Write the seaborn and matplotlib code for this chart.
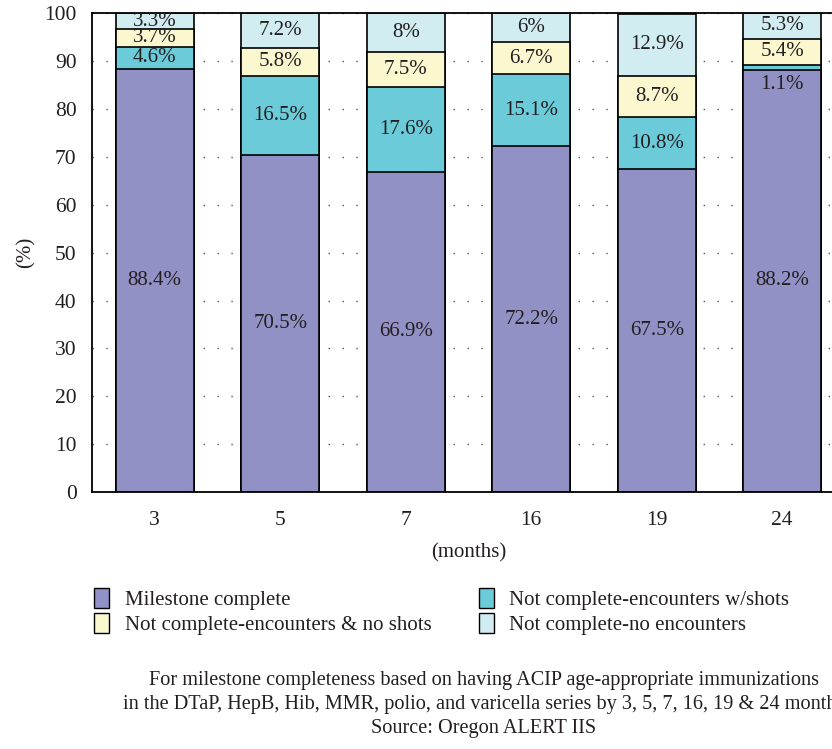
import numpy as np
import pandas as pd
import matplotlib
matplotlib.use("Agg")
import matplotlib.pyplot as plt
import seaborn as sns
from matplotlib.patches import Patch

# Data
months = ["3", "5", "7", "16", "19", "24"]
milestone_complete = [88.4, 70.5, 66.9, 72.2, 67.5, 88.2]
enc_with_shots = [4.6, 16.5, 17.6, 15.1, 10.8, 1.1]
enc_no_shots = [3.7, 5.8, 7.5, 6.7, 8.7, 5.4]
no_encounters = [3.3, 7.2, 8.0, 6.0, 12.9, 5.3]

series_names = ["Milestone complete", "Not complete-encounters w/shots",
                "Not complete-encounters & no shots", "Not complete-no encounters"]
series_values = [milestone_complete, enc_with_shots, enc_no_shots, no_encounters]
colors = ["#9191c5", "#6ccbd9", "#fbf8d0", "#d1edf1"]

text_col = "#231f20"

sns.set_style("white")
plt.rcParams["font.family"] = ["Liberation Serif", "DejaVu Serif"]
plt.rcParams["text.color"] = text_col
plt.rcParams["axes.labelcolor"] = text_col
plt.rcParams["xtick.color"] = text_col
plt.rcParams["ytick.color"] = text_col

fig = plt.figure(figsize=(8.32, 7.49), dpi=100)
ax = fig.add_axes([92 / 832, (749 - 492) / 749, 753 / 832, 478.7 / 749])

df = pd.DataFrame({"month": months})
cum = np.cumsum(np.array(series_values), axis=0)

# draw cumulative totals from the top layer down so segments stack
for i in range(len(series_names) - 1, -1, -1):
    df["val"] = cum[i]
    sns.barplot(data=df, x="month", y="val", order=months, color=colors[i],
                saturation=1, width=0.62, edgecolor="black", linewidth=1.2,
                ax=ax, zorder=2)

# segment labels
for j in range(len(months)):
    for i in range(len(series_names)):
        v = series_values[i][j]
        top = cum[i][j]
        bot = top - v
        if v < 2:
            ax.text(j, bot - 1.0, f"{v:g}%", ha="center", va="top",
                    fontsize=15, color=text_col, zorder=3)
        else:
            ax.text(j, (top + bot) / 2, f"{v:g}%", ha="center", va="center",
                    fontsize=15, color=text_col, zorder=3)

ax.set_xlim(-0.5, 5.5)
ax.set_ylim(0, 100)
ax.set_axisbelow(True)
ax.set_yticks(np.arange(0, 101, 10))
ax.yaxis.grid(True, linestyle=(0, (1, 9)), color="#555555", linewidth=1.0)
ax.grid(axis="x", visible=False)

ax.set_xticks(np.arange(len(months)))
ax.set_xticklabels(months)
ax.set_xticks(np.arange(-0.5, 6, 1), minor=True)
ax.tick_params(axis="x", which="major", length=0, pad=14, labelsize=15.5)
ax.tick_params(axis="x", which="minor", length=7, width=1.3, direction="out")
ax.tick_params(axis="y", which="major", length=7, width=1.3, direction="out",
               labelsize=15.5, pad=4)

for side in ["left", "bottom", "top"]:
    ax.spines[side].set_visible(True)
    ax.spines[side].set_linewidth(1.3)
    ax.spines[side].set_color("black")
ax.spines["right"].set_visible(False)

ax.set_xlabel("(months)", fontsize=15, labelpad=9)
ax.set_ylabel("(%)", fontsize=15, labelpad=6)

handles = [Patch(facecolor=colors[k], edgecolor="black", linewidth=1.0)
           for k in range(4)]
order = [0, 2, 1, 3]
fig.legend([handles[k] for k in order], [series_names[k] for k in order],
           loc="upper left", bbox_to_anchor=(86 / 832, 1 - 580 / 749),
           ncol=2, frameon=False, fontsize=15, handlelength=0.7,
           handleheight=1.1, handletextpad=0.75, columnspacing=2.3,
           labelspacing=0.1, borderaxespad=0)

fig.text(484 / 832, 1 - 681 / 749,
         "For milestone completeness based on having ACIP age-appropriate immunizations",
         ha="center", va="center", fontsize=14.6)
fig.text(484 / 832, 1 - 705 / 749,
         "in the DTaP, HepB, Hib, MMR, polio, and varicella series by 3, 5, 7, 16, 19 & 24 months",
         ha="center", va="center", fontsize=14.6)
fig.text(484 / 832, 1 - 729 / 749, "Source: Oregon ALERT IIS",
         ha="center", va="center", fontsize=14.6)

fig.savefig("out.png", dpi=100)
